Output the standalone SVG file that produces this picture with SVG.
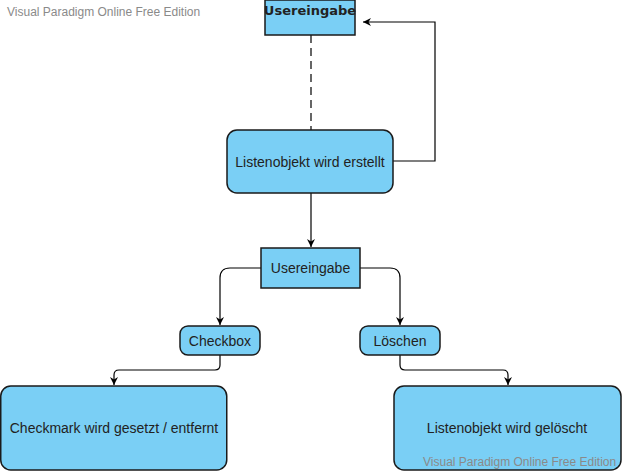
<svg xmlns="http://www.w3.org/2000/svg" width="622" height="471" viewBox="0 0 622 471">
<defs>
<style>
.box{fill:#7ACFF5;stroke:#1a1a1a;stroke-width:1.5}
.t{font-family:"Liberation Sans",Arial,sans-serif;font-size:14px;fill:#222;text-anchor:middle}
.tb{font-family:"DejaVu Sans",Verdana,sans-serif;font-size:13px;font-weight:bold;fill:#222;text-anchor:middle}
.wm{font-family:"Liberation Sans",Arial,sans-serif;font-size:12px;fill:#8a8a8a}
.c{fill:none;stroke:#000;stroke-width:1.2}
</style>
<marker id="arr" markerWidth="10" markerHeight="10" refX="8" refY="5" orient="auto" markerUnits="userSpaceOnUse">
<path d="M0,1 L8,5 L0,9 L2.5,5 Z" fill="#000"/>
</marker>
</defs>
<rect width="622" height="471" fill="#fff"/>
<text class="wm" x="7" y="16">Visual Paradigm Online Free Edition</text>
<g id="connectors">
<path class="c" d="M311,35 V130" stroke-dasharray="8,5"/>
<path class="c" d="M393,161 H435 V22 H363" marker-end="url(#arr)"/>
<path class="c" d="M311,193 V247" marker-end="url(#arr)"/>
<path class="c" d="M261,268 H230 Q220,268 220,278 V325" marker-end="url(#arr)"/>
<path class="c" d="M360,268 H390 Q400,268 400,278 V325" marker-end="url(#arr)"/>
<path class="c" d="M220,355 V365 Q220,370 215,370 H119 Q114,370 114,375 V385" marker-end="url(#arr)"/>
<path class="c" d="M400,355 V365 Q400,370 405,370 H503 Q508,370 508,375 V385" marker-end="url(#arr)"/>
</g>
<g id="n1">
<rect class="box" x="265" y="0" width="90" height="35"/>
<text class="tb" x="310" y="15">Usereingabe</text>
</g>
<g id="n2">
<rect class="box" x="227" y="130" width="166" height="63" rx="10"/>
<text class="t" x="310" y="167">Listenobjekt wird erstellt</text>
</g>
<g id="n3">
<rect class="box" x="261" y="248" width="99" height="40"/>
<text class="t" x="310.5" y="273">Usereingabe</text>
</g>
<g id="n4">
<rect class="box" x="180" y="326" width="80" height="29" rx="8"/>
<text class="t" x="220" y="346">Checkbox</text>
</g>
<g id="n5">
<rect class="box" x="360" y="326" width="80" height="29" rx="8"/>
<text class="t" x="400" y="346">Löschen</text>
</g>
<g id="n6">
<rect class="box" x="0.75" y="386" width="226" height="84" rx="10"/>
<text class="t" x="114" y="433">Checkmark wird gesetzt / entfernt</text>
</g>
<g id="n7">
<rect class="box" x="394" y="386" width="227" height="84" rx="10"/>
<text class="t" x="507" y="433">Listenobjekt wird gelöscht</text>
</g>
<text class="wm" x="423" y="466">Visual Paradigm Online Free Edition</text>
</svg>
